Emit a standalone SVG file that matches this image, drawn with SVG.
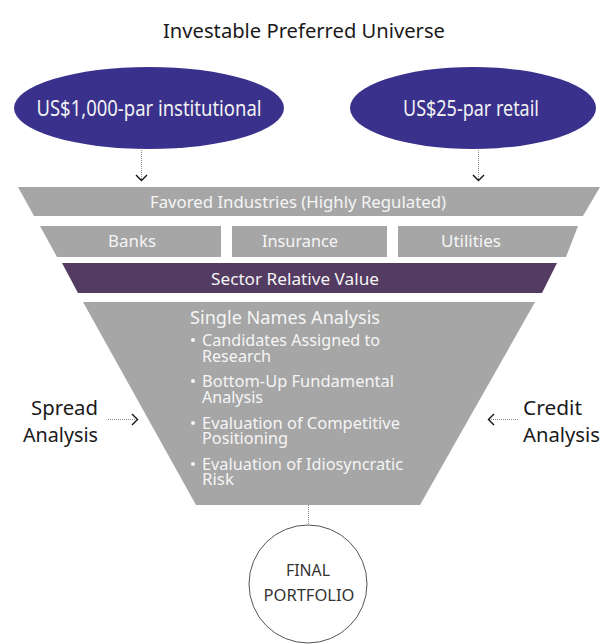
<svg xmlns="http://www.w3.org/2000/svg" width="613" height="644" viewBox="0 0 613 644">
<defs>
<style>
text{font-family:"Noto Sans","Liberation Sans",sans-serif;}
.title{font-size:20px;fill:#1a1a1a;}
.oval{fill:#39318c;}
.ovt{font-size:21px;fill:#f2f2f2;text-anchor:middle;}
.band{fill:#a6a6a6;}
.purple{fill:#533b62;}
.bt{font-size:16.5px;fill:#f5f5f5;text-anchor:middle;}
.lt{font-size:16px;fill:#f5f5f5;}
.side{font-size:20.5px;fill:#1a1a1a;}
.dot{stroke:#8a8a8a;stroke-width:1;stroke-dasharray:1 1;fill:none;}
.chev{stroke:#111;stroke-width:1.4;fill:none;}
.fin{font-size:17px;fill:#333;text-anchor:middle;}
</style>
</defs>
<text class="title" x="163" y="38" textLength="282" lengthAdjust="spacingAndGlyphs">Investable Preferred Universe</text>

<g id="node-institutional">
<ellipse class="oval" cx="149" cy="108" rx="135" ry="41"/>
<text class="ovt" x="149" y="116" textLength="225" lengthAdjust="spacingAndGlyphs">US$1,000-par institutional</text>
</g>
<g id="node-retail">
<ellipse class="oval" cx="473" cy="108" rx="123" ry="41"/>
<text class="ovt" x="471" y="116" textLength="136" lengthAdjust="spacingAndGlyphs">US$25-par retail</text>
</g>

<g id="node-favored">
<polygon class="band" points="18,187 600,187 583,216 34,216"/>
<text class="bt" x="298" y="208" textLength="296" lengthAdjust="spacingAndGlyphs">Favored Industries (Highly Regulated)</text>
</g>
<g id="node-banks">
<polygon class="band" points="40,226 221,226 221,257 57,257"/>
<text class="bt" x="132" y="247" textLength="48" lengthAdjust="spacingAndGlyphs">Banks</text>
</g>
<g id="node-insurance">
<rect class="band" x="232" y="226" width="155" height="31"/>
<text class="bt" x="300" y="247" textLength="76" lengthAdjust="spacingAndGlyphs">Insurance</text>
</g>
<g id="node-utilities">
<polygon class="band" points="398,226 578,226 566,257 398,257"/>
<text class="bt" x="471" y="247" textLength="60" lengthAdjust="spacingAndGlyphs">Utilities</text>
</g>
<g id="node-sector">
<polygon class="purple" points="62,263 557,263 542,293 78,293"/>
<text class="bt" x="295" y="285" textLength="168" lengthAdjust="spacingAndGlyphs">Sector Relative Value</text>
</g>
<g id="node-single-names">
<polygon class="band" points="83,302 535,302 420,505 196,505"/>
<text class="lt" x="190" y="324" style="font-size:17.5px" textLength="190" lengthAdjust="spacingAndGlyphs">Single Names Analysis</text>
<g fill="#f5f5f5">
<circle cx="193" cy="340" r="2"/>
<circle cx="193" cy="381" r="2"/>
<circle cx="193" cy="423" r="2"/>
<circle cx="193" cy="464" r="2"/>
</g>
<text class="lt" x="202" y="346" textLength="178" lengthAdjust="spacingAndGlyphs">Candidates Assigned to</text>
<text class="lt" x="202" y="362" textLength="69" lengthAdjust="spacingAndGlyphs">Research</text>
<text class="lt" x="202" y="387" textLength="192" lengthAdjust="spacingAndGlyphs">Bottom-Up Fundamental</text>
<text class="lt" x="202" y="403" textLength="61" lengthAdjust="spacingAndGlyphs">Analysis</text>
<text class="lt" x="202" y="429" textLength="198" lengthAdjust="spacingAndGlyphs">Evaluation of Competitive</text>
<text class="lt" x="202" y="444" textLength="86" lengthAdjust="spacingAndGlyphs">Positioning</text>
<text class="lt" x="202" y="470" textLength="201" lengthAdjust="spacingAndGlyphs">Evaluation of Idiosyncratic</text>
<text class="lt" x="202" y="485" textLength="32" lengthAdjust="spacingAndGlyphs">Risk</text>
</g>

<g id="node-spread">
<text class="side" x="98" y="415" text-anchor="end" textLength="67" lengthAdjust="spacingAndGlyphs">Spread</text>
<text class="side" x="98" y="442" text-anchor="end" textLength="75" lengthAdjust="spacingAndGlyphs">Analysis</text>
</g>
<g id="node-credit">
<text class="side" x="523" y="415" textLength="59" lengthAdjust="spacingAndGlyphs">Credit</text>
<text class="side" x="523" y="442" textLength="77" lengthAdjust="spacingAndGlyphs">Analysis</text>
</g>

<g id="node-final">
<circle cx="308" cy="584" r="59" fill="#fff" stroke="#555" stroke-width="1"/>
<text class="fin" x="308" y="576" textLength="44" lengthAdjust="spacingAndGlyphs">FINAL</text>
<text class="fin" x="309" y="601" textLength="91" lengthAdjust="spacingAndGlyphs">PORTFOLIO</text>
</g>

<g id="connectors">
<line class="dot" x1="141.5" y1="150" x2="141.5" y2="179"/>
<polyline class="chev" points="136,175 141.5,180.5 147,175"/>
<line class="dot" x1="478.5" y1="150" x2="478.5" y2="179"/>
<polyline class="chev" points="473,175 478.5,180.5 484,175"/>
<line class="dot" x1="108" y1="419.5" x2="136" y2="419.5"/>
<polyline class="chev" points="132,414 137.5,419.5 132,425"/>
<line class="dot" x1="489" y1="419.5" x2="518" y2="419.5"/>
<polyline class="chev" points="494,414 488.5,419.5 494,425"/>
<line class="dot" x1="308.5" y1="505" x2="308.5" y2="525"/>
</g>
</svg>
